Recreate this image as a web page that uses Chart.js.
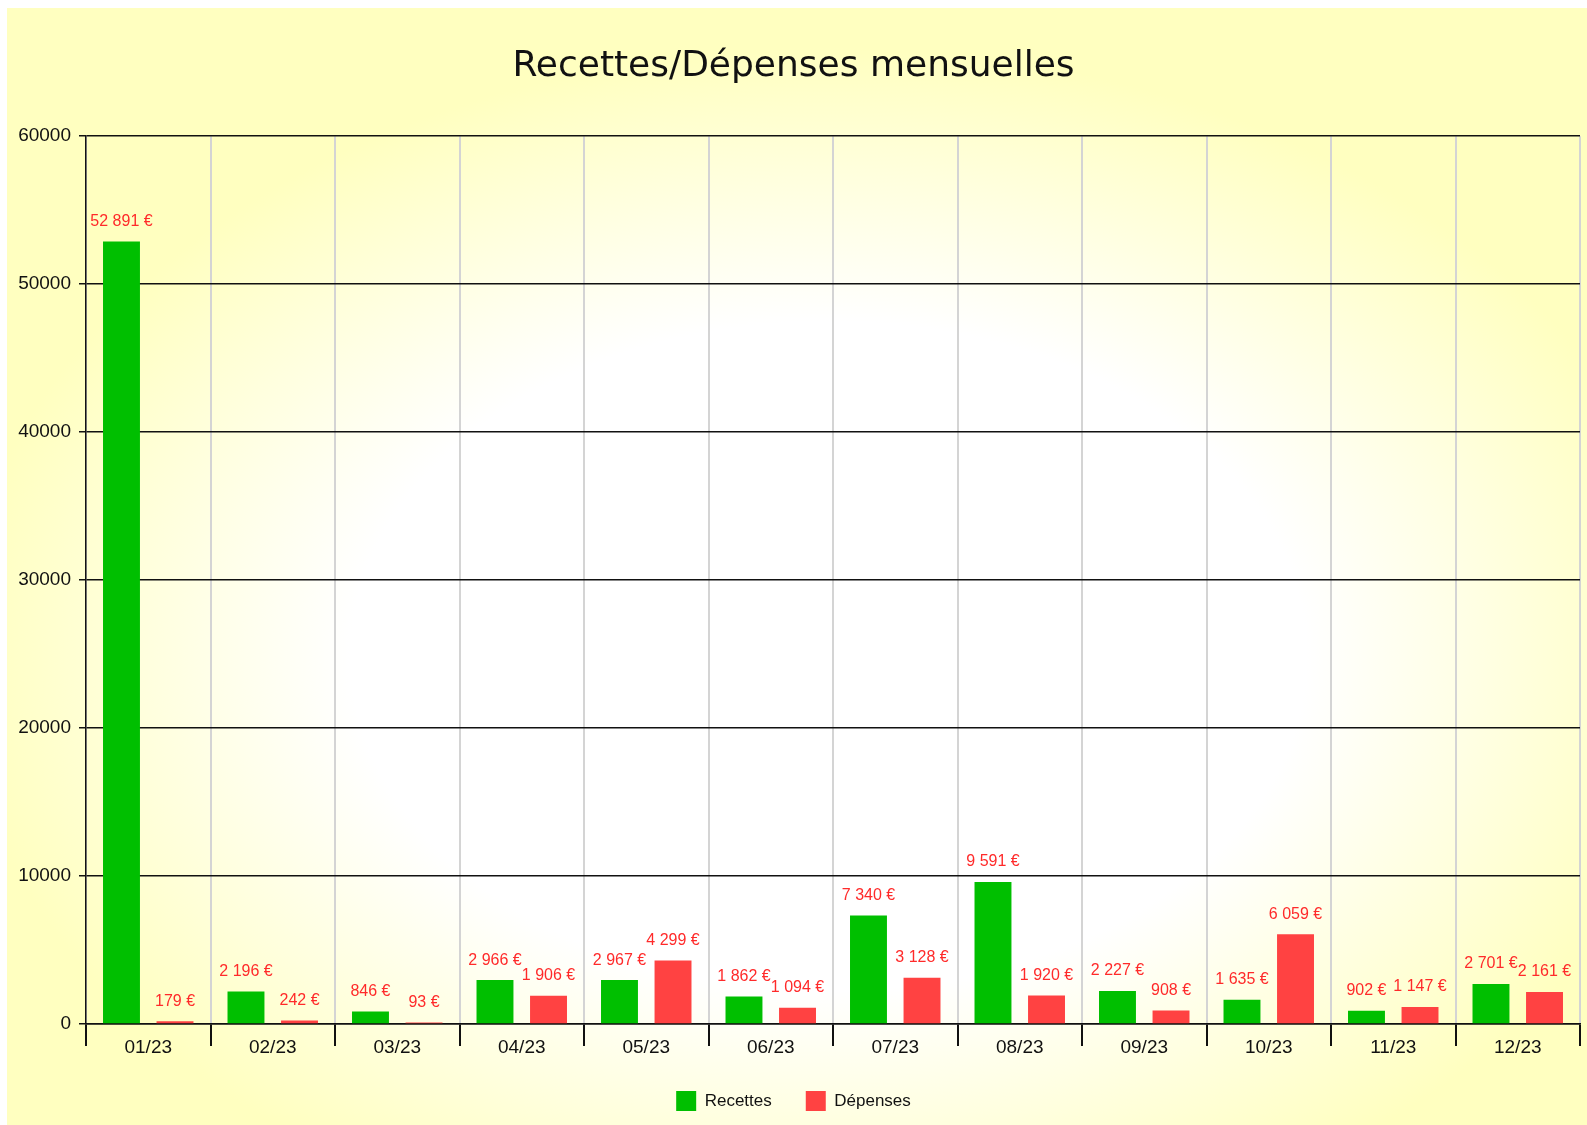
<!DOCTYPE html>
<html>
<head>
<meta charset="utf-8">
<script src="https://cdn.jsdelivr.net/npm/chart.js@4"></script>
<style>
  html, body { margin: 0; padding: 0; background: #fff; }
  #wrap { position: absolute; left: 7px; top: 8px; width: 1580px; height: 1117px; }
</style>
</head>
<body>
<div id="wrap"><canvas id="chart"></canvas></div>
<script>
const months = ['01/23', '02/23', '03/23', '04/23', '05/23', '06/23', '07/23', '08/23', '09/23', '10/23', '11/23', '12/23'];
const recettes = [52891, 2196, 846, 2966, 2967, 1862, 7340, 9591, 2227, 1635, 902, 2701];
const depenses = [179, 242, 93, 1906, 4299, 1094, 3128, 1920, 908, 6059, 1147, 2161];
const yTicks = [0, 10000, 20000, 30000, 40000, 50000, 60000];

const euro = v => String(v).replace(/\B(?=(\d{3})+(?!\d))/g, ' ') + ' €';

// yellow edges, white middle
const bgPlugin = {
    id: 'bg',
    beforeDraw(chart) {
        const { ctx, width, height } = chart;
        const sy = 0.7;
        const cx = width * 0.52, cy = height * 0.58;
        ctx.save();
        ctx.translate(cx, cy);
        ctx.scale(1, sy);
        const g = ctx.createRadialGradient(0, 0, 0, 0, 0, width * 0.55);
        g.addColorStop(0, '#ffffff');
        g.addColorStop(0.55, '#ffffff');
        g.addColorStop(1, '#ffffc0');
        ctx.fillStyle = g;
        ctx.fillRect(-cx, -cy / sy, width, height / sy);
        ctx.restore();
    }
};

// value labels above bars
const valueLabels = {
    id: 'valueLabels',
    afterDatasetsDraw(chart) {
        const { ctx } = chart;
        ctx.save();
        ctx.font = '16px "Liberation Sans", Arial, sans-serif';
        ctx.fillStyle = '#ff2a2a';
        ctx.textAlign = 'center';
        ctx.textBaseline = 'middle';
        chart.data.datasets.forEach((ds, i) => {
            chart.getDatasetMeta(i).data.forEach((bar, j) => {
                ctx.fillText(euro(ds.data[j]), bar.x, bar.y - 20);
            });
        });
        ctx.restore();
    }
};

new Chart(document.getElementById('chart'), {
    type: 'bar',
    data: {
        labels: months,
        datasets: [
            { label: 'Recettes', data: recettes, backgroundColor: '#00bf00', categoryPercentage: 0.86, barPercentage: 0.69 },
            { label: 'Dépenses', data: depenses, backgroundColor: '#ff4242', categoryPercentage: 0.86, barPercentage: 0.69 }
        ]
    },
    options: {
        responsive: true,
        maintainAspectRatio: false,
        animation: false,
        layout: { padding: { left: 0, right: 7, top: 0, bottom: 4 } },
        plugins: {
            title: {
                display: true,
                text: 'Recettes/Dépenses mensuelles',
                color: '#111',
                font: { family: '"DejaVu Sans", sans-serif', size: 36, weight: 'normal' },
                padding: { top: 37, bottom: 48 }
            },
            legend: {
                position: 'bottom',
                labels: {
                    boxWidth: 20,
                    boxHeight: 20,
                    padding: 34,
                    color: '#111',
                    font: { family: '"Liberation Sans", Arial, sans-serif', size: 17 }
                }
            },
            tooltip: { enabled: false }
        },
        scales: {
            x: {
                grid: { color: '#d4d4d4', lineWidth: 2, tickColor: '#111', tickLength: 22, offset: true },
                border: { color: '#111', width: 1.5 },
                ticks: { color: '#111', padding: -10, font: { family: '"Liberation Sans", Arial, sans-serif', size: 19 } },
                afterFit: s => { s.height = 33; }
            },
            y: {
                min: 0,
                max: 60000,
                afterBuildTicks: s => { s.ticks = yTicks.map(v => ({ value: v })); },
                grid: { color: '#111', lineWidth: 1.5, tickLength: 7 },
                border: { color: '#111', width: 1.5 },
                ticks: { color: '#111', padding: 8, callback: v => String(v), font: { family: '"Liberation Sans", Arial, sans-serif', size: 19 } },
                afterFit: s => { s.width = 79; }
            }
        }
    },
    plugins: [bgPlugin, valueLabels]
});
</script>
</body>
</html>
